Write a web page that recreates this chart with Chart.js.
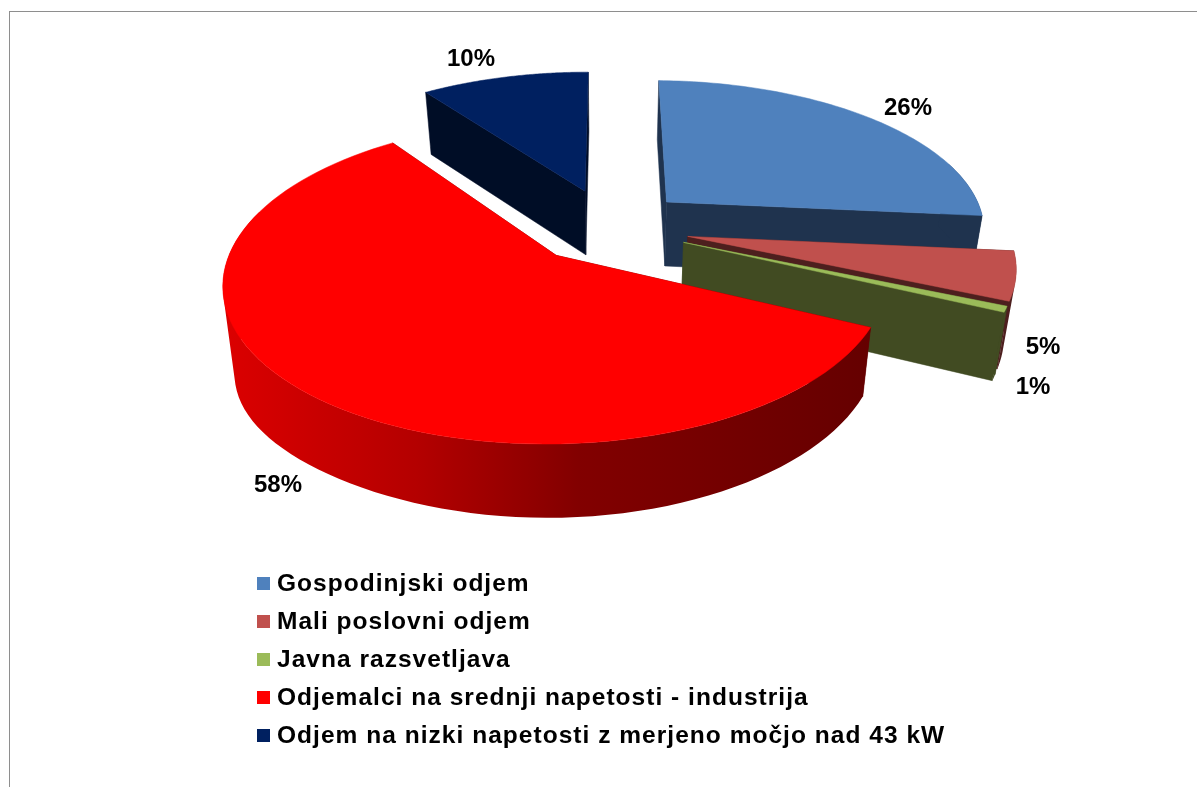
<!DOCTYPE html>
<html>
<head>
<meta charset="utf-8">
<script src="https://cdn.jsdelivr.net/npm/chart.js@4/dist/chart.umd.min.js"></script>
<style>
html, body { margin: 0; padding: 0; background: #fff; overflow: hidden; }
#okvir { position: absolute; left: 9px; top: 11px; right: 0; bottom: 0; border-left: 1.5px solid #8e8e8e; border-top: 1.5px solid #8e8e8e; }
#graf { position: absolute; left: 0; top: 0; }
</style>
</head>
<body>
<div id="okvir"></div>
<canvas id="graf" width="1197" height="787"></canvas>
<script>
// -----------------------Podatki--------------------------------------------//
var kategorije = ['Gospodinjski odjem', 'Mali poslovni odjem', 'Javna razsvetljava', 'Odjemalci na srednji napetosti - industrija', 'Odjem na nizki napetosti z merjeno močjo nad 43 kW'];
var vrednosti = [26.3, 5.1, 0.6, 58, 10];
var barve = ['#4f81bd', '#c0504d', '#9bbb59', '#ff0000', '#002060'];
var barveStranic = ['#1f334e', '#4d1f1e', '#414b22', '#650000', '#000d26'];

// -----------------------Nastavitve 3D pogleda--------------------------------------------//
var pogled = { cx: 609, cy: 225, a: 322, b: 148, k: 0.16, visina: 65, skrcek: 0.97 };
var vrstniRed = [4, 0, 1, 2, 3]; // od zadaj naprej
var premikY = [1, 2, 2, 1, 0];
var nagibY = [2, 2, 0, 0, 0];
var radijX = [0.995, 0.99, 0.99, 0.985, 1];
var polozajiOznak = [[908, 108], [1043, 347], [1033, 387], [278, 485], [471, 59]];
var legenda = { x: 277, y: 583, korak: 38, kvadrat: 13 };

function projekcija(u, v) {
    var d = 1 - pogled.k * v;
    return { x: pogled.cx + pogled.a * u / d, y: pogled.cy + pogled.b * v / d, v: v };
}

function spodaj(t) {
    return {
        x: pogled.cx + (t.x - pogled.cx) * pogled.skrcek,
        y: pogled.cy + (t.y - pogled.cy) * pogled.skrcek + pogled.visina / (1 - pogled.k * t.v) + (t.gl || 0)
    };
}

function povrsina(tocke) {
    var s = 0;
    tocke.forEach(function (t, i) {
        var q = tocke[(i + 1) % tocke.length];
        s += t.x * q.y - q.x * t.y;
    });
    return s;
}

function dodajLik(ctx, tocke) {
    tocke.forEach(function (t, i) {
        if (i === 0) ctx.moveTo(t.x, t.y); else ctx.lineTo(t.x, t.y);
    });
    ctx.closePath();
}

function lik(ctx, tocke, barva) {
    ctx.beginPath();
    dodajLik(ctx, tocke);
    ctx.fillStyle = barva;
    ctx.fill();
    ctx.strokeStyle = barva;
    ctx.lineWidth = 0.5;
    ctx.stroke();
}

function rezina(ctx, el, i) {
    var p = el.getProps(['startAngle', 'endAngle', 'outerRadius']);
    var pol = (p.startAngle + p.endAngle) / 2;
    var e = (el.options.offset / 4) / p.outerRadius;
    var ou = Math.cos(pol) * e, ov = Math.sin(pol) * e;

    function tocka(u, v) {
        var t = projekcija(u, v);
        t.y += premikY[i] + nagibY[i] * u;
        return t;
    }

    var vrh = tocka(ou, ov);
    var lok = [];
    var n = 90;
    for (var j = 0; j <= n; j++) {
        var f = p.startAngle + (p.endAngle - p.startAngle) * j / n;
        var t = tocka(ou + Math.cos(f) * radijX[i], ov + Math.sin(f));
        t.gl = 20 * Math.pow(Math.max(0, -Math.cos(f)), 4); // leva stran je v izvirniku globlja
        lok.push({ t: t, spredaj: Math.sin(f) > -0.3 });
    }
    var prva = lok[0].t, zadnja = lok[n].t;

    // ravni stranici
    lik(ctx, [vrh, prva, spodaj(prva), spodaj(vrh)], barveStranic[i]);
    lik(ctx, [vrh, zadnja, spodaj(zadnja), spodaj(vrh)], barveStranic[i]);

    // zunanji plasc, samo sprednji del: trakovi v eni poti, da ni rezov
    var barva = barveStranic[i];
    if (i === 3) {
        var g = ctx.createLinearGradient(222, 0, 870, 0);
        g.addColorStop(0, '#dc0000');
        g.addColorStop(0.3, '#b40000');
        g.addColorStop(0.55, '#820000');
        g.addColorStop(1, barva);
        barva = g;
    }
    ctx.beginPath();
    for (var m = 0; m < n; m++) {
        if (lok[m].spredaj && lok[m + 1].spredaj) {
            var trak = [lok[m].t, lok[m + 1].t, spodaj(lok[m + 1].t), spodaj(lok[m].t)];
            if (povrsina(trak) < 0) trak.reverse();
            dodajLik(ctx, trak);
        }
    }
    ctx.fillStyle = barva;
    ctx.fill();

    // zgornja ploskev
    lik(ctx, [vrh].concat(lok.map(function (l) { return l.t; })), barve[i]);
}

var pita3d = {
    id: 'pita3d',
    beforeDatasetDraw: function (chart, args) {
        var ctx = chart.ctx;
        var meta = chart.getDatasetMeta(args.index);
        vrstniRed.forEach(function (i) {
            rezina(ctx, meta.data[i], i);
        });

        // oznake
        ctx.save();
        ctx.fillStyle = '#000';
        ctx.font = 'bold 24px "Liberation Sans", Arial, sans-serif';
        ctx.textAlign = 'center';
        ctx.textBaseline = 'middle';
        vrednosti.forEach(function (val, i) {
            ctx.fillText(Math.round(val) + '%', polozajiOznak[i][0], polozajiOznak[i][1]);
        });

        // legenda
        ctx.textAlign = 'left';
        ctx.font = 'bold 24.5px "Liberation Sans", Arial, sans-serif';
        kategorije.forEach(function (ime, i) {
            var y = legenda.y + i * legenda.korak;
            ctx.fillStyle = barve[i];
            ctx.fillRect(legenda.x - 20, y - 6, legenda.kvadrat, legenda.kvadrat);
            ctx.fillStyle = '#000';
            ctx.letterSpacing = '1.03px';
            ctx.fillText(ime, legenda.x, y + 1);
        });
        ctx.restore();
        return false;
    }
};

var ctx = document.getElementById('graf').getContext('2d');
var graf = new Chart(ctx, {
    type: 'pie',
    data: {
        labels: kategorije,
        datasets: [{ data: vrednosti, backgroundColor: barve, borderWidth: 0, offset: 262 }]
    },
    options: {
        responsive: false,
        animation: false,
        plugins: { legend: { display: false }, tooltip: { enabled: false } }
    },
    plugins: [pita3d]
});
</script>
</body>
</html>
